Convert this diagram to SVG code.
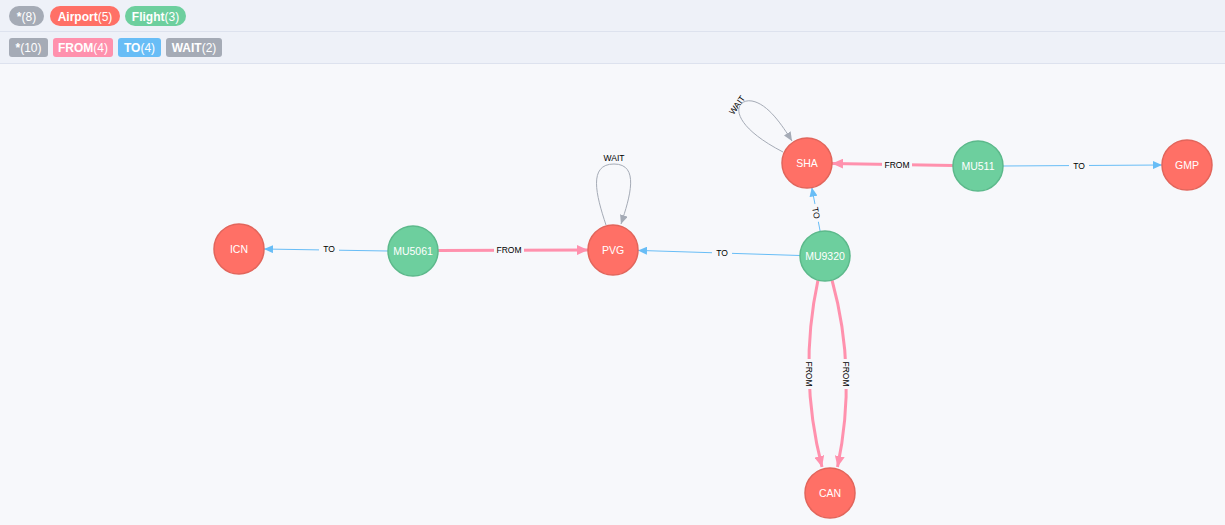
<svg xmlns="http://www.w3.org/2000/svg" width="1225" height="525" viewBox="0 0 1225 525">
<style>
.bg{fill:#f7f8fb}
.hdr{fill:#eef1f8}
.sep{stroke:#dde2ee;stroke-width:1}
.bt{font-family:"Liberation Sans",Arial,sans-serif;font-size:12px;fill:#fff;text-anchor:middle}
.bt .n{font-weight:bold}
.airport{fill:#ff7066;stroke:#e2655b;stroke-width:1.5}
.flight{fill:#6dcf9e;stroke:#5cb98b;stroke-width:1.5}
.nt{font-family:"Liberation Sans",Arial,sans-serif;font-size:10.5px;fill:#fff;text-anchor:middle;dominant-baseline:central}
.to{stroke:#68bdf6;stroke-width:1;fill:none}
.from{stroke:#ff91ad;stroke-width:3;fill:none}
.wait{stroke:#a5abb6;stroke-width:1;fill:none}
.el{font-family:"Liberation Sans",Arial,sans-serif;font-size:8.5px;fill:#000;text-anchor:middle;dominant-baseline:central}
.lb{fill:#f7f8fb}
</style>
<defs>
<marker id="aTo" markerUnits="userSpaceOnUse" markerWidth="10" markerHeight="8" refX="9" refY="4" orient="auto"><path d="M0,0 L9,4 L0,8 Z" fill="#68bdf6"/></marker>
<marker id="aFrom" markerUnits="userSpaceOnUse" markerWidth="12" markerHeight="10" refX="11" refY="5" orient="auto"><path d="M0,0 L11,5 L0,10 Z" fill="#ff91ad"/></marker>
<marker id="aWait" markerUnits="userSpaceOnUse" markerWidth="10" markerHeight="8" refX="9" refY="4" orient="auto"><path d="M0,0 L9,4 L0,8 Z" fill="#a5abb6"/></marker>
</defs>
<rect class="bg" x="0" y="0" width="1225" height="525"/>
<g id="legend">
<rect class="hdr" x="0" y="0" width="1225" height="63"/>
<line class="sep" x1="0" y1="31.5" x2="1225" y2="31.5"/>
<line class="sep" x1="0" y1="63.5" x2="1225" y2="63.5"/>
<rect x="9" y="6" width="35" height="20" rx="10" fill="#a5abb6"/>
<text class="bt" x="26.5" y="20.5"><tspan class="n">*</tspan>(8)</text>
<rect x="50" y="6" width="70" height="20" rx="10" fill="#ff7066"/>
<text class="bt" x="85" y="20.5"><tspan class="n">Airport</tspan>(5)</text>
<rect x="125" y="6" width="61" height="20" rx="10" fill="#6dcf9e"/>
<text class="bt" x="155.5" y="20.5"><tspan class="n">Flight</tspan>(3)</text>
<rect x="9" y="38" width="39" height="19" rx="3" fill="#a5abb6"/>
<text class="bt" x="28.5" y="52"><tspan class="n">*</tspan>(10)</text>
<rect x="53" y="38" width="60" height="19" rx="3" fill="#ff91ad"/>
<text class="bt" x="83" y="52"><tspan class="n">FROM</tspan>(4)</text>
<rect x="118" y="38" width="43" height="19" rx="3" fill="#68bdf6"/>
<text class="bt" x="139.5" y="52"><tspan class="n">TO</tspan>(4)</text>
<rect x="166" y="38" width="56" height="19" rx="3" fill="#a5abb6"/>
<text class="bt" x="194" y="52"><tspan class="n">WAIT</tspan>(2)</text>
</g>
<g id="connectors">
<path class="to" d="M388,251 L264,249" marker-end="url(#aTo)"/>
<rect class="lb" x="319" y="244" width="20" height="10"/>
<text class="el" x="329" y="249">TO</text>
<path class="from" d="M438,250.5 L588,250" marker-end="url(#aFrom)"/>
<rect class="lb" x="494" y="245" width="30" height="10"/>
<text class="el" x="509" y="250">FROM</text>
<path class="to" d="M800,255.5 L638,250.4" marker-end="url(#aTo)"/>
<rect class="lb" x="712" y="247.5" width="20" height="10"/>
<text class="el" x="722" y="252.5">TO</text>
<path class="to" d="M820.2,231.5 L811.8,187.5" marker-end="url(#aTo)"/>
<g transform="translate(816,213) rotate(79)"><rect class="lb" x="-9" y="-5" width="18" height="10"/><text class="el" x="0" y="0">TO</text></g>
<path class="from" d="M953,165.6 L832,163.4" marker-end="url(#aFrom)"/>
<rect class="lb" x="882" y="159.5" width="30" height="10"/>
<text class="el" x="897" y="164.5">FROM</text>
<path class="to" d="M1003,166 L1162,165" marker-end="url(#aTo)"/>
<rect class="lb" x="1069" y="161" width="20" height="10"/>
<text class="el" x="1079" y="166">TO</text>
<path class="from" d="M818,280 Q798,373 822,467" marker-end="url(#aFrom)"/>
<g transform="translate(809,374) rotate(90)"><rect class="lb" x="-15" y="-5" width="30" height="10"/><text class="el" x="0" y="0">FROM</text></g>
<path class="from" d="M832,280 Q857.5,373 837.5,467" marker-end="url(#aFrom)"/>
<g transform="translate(846,374) rotate(90)"><rect class="lb" x="-15" y="-5" width="30" height="10"/><text class="el" x="0" y="0">FROM</text></g>
<path class="wait" d="M783,152 C725,122 735,98 752,101 C768,104 782,125 792,141" marker-end="url(#aWait)"/>
<text class="el" transform="translate(737,105) rotate(-55)" x="0" y="0">WAIT</text>
<path class="wait" d="M606,225 C596,195 588,164 614,164 C640,164 630,197 621,224" marker-end="url(#aWait)"/>
<text class="el" x="614" y="158">WAIT</text>
</g>
<g id="node-ICN"><circle class="airport" cx="239" cy="249" r="25"/><text class="nt" x="239" y="249">ICN</text></g>
<g id="node-MU5061"><circle class="flight" cx="413" cy="251" r="25"/><text class="nt" x="413" y="251">MU5061</text></g>
<g id="node-PVG"><circle class="airport" cx="613" cy="250" r="25"/><text class="nt" x="613" y="250">PVG</text></g>
<g id="node-SHA"><circle class="airport" cx="807" cy="163" r="25"/><text class="nt" x="807" y="163">SHA</text></g>
<g id="node-MU9320"><circle class="flight" cx="825" cy="256" r="25"/><text class="nt" x="825" y="256">MU9320</text></g>
<g id="node-MU511"><circle class="flight" cx="978" cy="166" r="25"/><text class="nt" x="978" y="166">MU511</text></g>
<g id="node-GMP"><circle class="airport" cx="1187" cy="165" r="25"/><text class="nt" x="1187" y="165">GMP</text></g>
<g id="node-CAN"><circle class="airport" cx="830" cy="493" r="25"/><text class="nt" x="830" y="493">CAN</text></g>
</svg>
